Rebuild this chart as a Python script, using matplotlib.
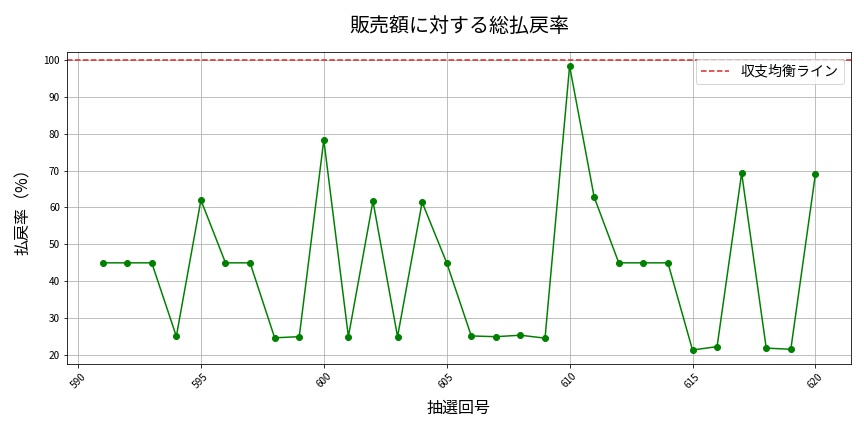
import matplotlib
matplotlib.use("Agg")
import matplotlib.pyplot as plt

plt.rcParams['font.family'] = ['Noto Sans CJK JP', 'DejaVu Sans']

draws = list(range(591, 621))
payout_rate = [45.0, 45.0, 45.0, 25.1, 62.0, 45.0, 45.0, 24.7, 25.0, 78.3,
               25.0, 61.7, 25.0, 61.4, 45.0, 25.2, 25.0, 25.4, 24.6, 98.3,
               62.8, 45.0, 45.0, 45.0, 21.4, 22.3, 69.3, 21.9, 21.6, 69.0]
breakeven = 100
title = "販売額に対する総払戻率"
xlabel = "抽選回号"
ylabel = "払戻率（%）"
legend_label = "収支均衡ライン"

fig, ax = plt.subplots(figsize=(12, 6), dpi=72)
ax.plot(draws, payout_rate, marker='o', color='green', linestyle='-')
ax.axhline(y=breakeven, color='#d62728', linestyle='--', label=legend_label)
ax.set_title(title, fontsize=20, pad=20)
ax.set_xlabel(xlabel, fontsize=16, labelpad=10)
ax.set_ylabel(ylabel, fontsize=16, labelpad=12)
ax.tick_params(axis='both', labelsize=10)
plt.setp(ax.get_xticklabels(), rotation=45)
ax.grid(True)
ax.legend(fontsize=14, loc='upper right')
fig.subplots_adjust(left=0.0775, right=0.985, top=0.88, bottom=0.157)
fig.savefig("out.png", dpi=72)
